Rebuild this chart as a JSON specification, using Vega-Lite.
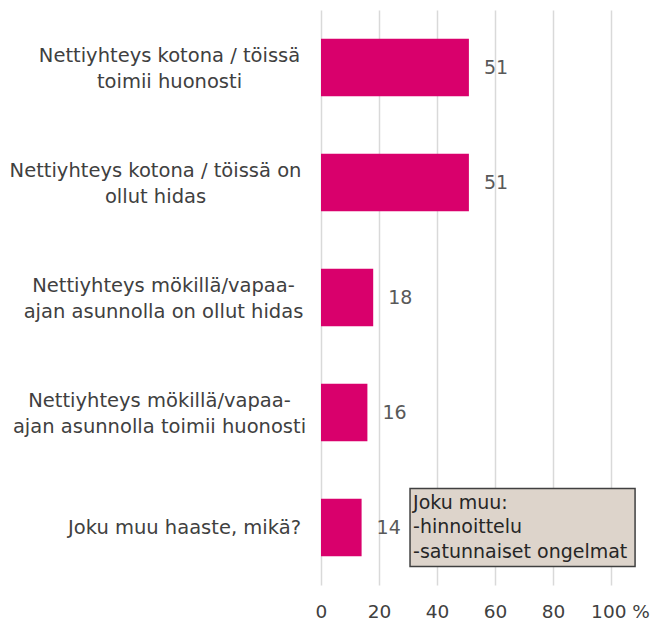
{
  "$schema": "https://vega.github.io/schema/vega-lite/v6.json",
  "autosize": "none",
  "width": 290,
  "height": 575,
  "padding": {"left": 321, "top": 10, "right": 40, "bottom": 39},
  "background": "white",
  "config": {
    "view": {"stroke": null},
    "font": "DejaVu Sans",
    "axis": {"labelFont": "DejaVu Sans", "titleFont": "DejaVu Sans"}
  },
  "datasets": {
    "bars": [
      {"label": "Nettiyhteys kotona / töissä|toimii huonosti", "value": 51},
      {"label": "Nettiyhteys kotona / töissä on|ollut hidas", "value": 51},
      {"label": "Nettiyhteys mökillä/vapaa-|ajan asunnolla on ollut hidas", "value": 18},
      {"label": "Nettiyhteys mökillä/vapaa-|ajan asunnolla toimii huonosti", "value": 16},
      {"label": "Joku muu haaste, mikä?", "value": 14}
    ],
    "note": [
      {"label": "Joku muu haaste, mikä?", "start": 30.7, "end": 108.3, "note": "Joku muu:|-hinnoittelu|-satunnaiset ongelmat"}
    ]
  },
  "layer": [
    {
      "data": {"name": "bars"},
      "mark": {"type": "bar", "color": "#d9006c"},
      "encoding": {
        "y": {
          "field": "label", "type": "nominal", "sort": null, "title": null,
          "scale": {"paddingInner": 0.5, "paddingOuter": 0.25},
          "axis": {
            "labelExpr": "split(datum.label, '|')",
            "labelAlign": "center",
            "labelBaseline": "middle",
            "labelFontSize": 19.5,
            "labelColor": "#404040",
            "labelLineHeight": 26,
            "labelLimit": 400,
            "ticks": false,
            "domain": false,
            "labelOffset": {"condition": {"test": "indexof(datum.value, '|') >= 0", "value": -12}, "value": 0},
            "labelPadding": {
              "condition": [
                {"test": "datum.value == 'Nettiyhteys kotona / töissä|toimii huonosti'", "value": 152},
                {"test": "datum.value == 'Nettiyhteys kotona / töissä on|ollut hidas'", "value": 166},
                {"test": "datum.value == 'Nettiyhteys mökillä/vapaa-|ajan asunnolla on ollut hidas'", "value": 158},
                {"test": "datum.value == 'Nettiyhteys mökillä/vapaa-|ajan asunnolla toimii huonosti'", "value": 162}
              ],
              "value": 137
            }
          }
        },
        "x": {
          "field": "value", "type": "quantitative", "title": null,
          "scale": {"domain": [0, 100], "nice": false},
          "axis": {
            "values": [0, 20, 40, 60, 80, 100],
            "labelExpr": "datum.value == 100 ? '100 %' : datum.label",
            "labelFontSize": 18.5,
            "labelColor": "#404040",
            "labelPadding": 17,
            "labelOffset": {"condition": {"test": "datum.value == 100", "value": 9}, "value": 0},
            "labelFlush": false,
            "ticks": false,
            "domain": false,
            "grid": true,
            "gridColor": "#d9d9d9",
            "gridWidth": 1.5
          }
        }
      }
    },
    {
      "data": {"name": "bars"},
      "mark": {"type": "text", "align": "left", "baseline": "middle", "dx": 15, "fontSize": 19, "color": "#595959", "font": "DejaVu Sans"},
      "encoding": {
        "y": {"field": "label", "type": "nominal", "sort": null},
        "x": {"field": "value", "type": "quantitative"},
        "text": {"field": "value", "type": "quantitative"}
      }
    },
    {
      "data": {"name": "note"},
      "mark": {"type": "bar", "height": 78, "fill": "#ddd4cb", "stroke": "#404040", "strokeWidth": 1.5},
      "encoding": {
        "y": {"field": "label", "type": "nominal", "sort": null},
        "x": {"field": "start", "type": "quantitative"},
        "x2": {"field": "end"}
      }
    },
    {
      "data": {"name": "note"},
      "mark": {"type": "text", "align": "left", "baseline": "middle", "dx": 3, "dy": -25, "fontSize": 19, "lineHeight": 24.5, "color": "#262626", "font": "DejaVu Sans"},
      "encoding": {
        "y": {"field": "label", "type": "nominal", "sort": null},
        "x": {"field": "start", "type": "quantitative"},
        "text": {"field": "note", "type": "nominal"}
      },
      "transform": [{"calculate": "split(datum.note, '|')", "as": "note"}]
    }
  ]
}
